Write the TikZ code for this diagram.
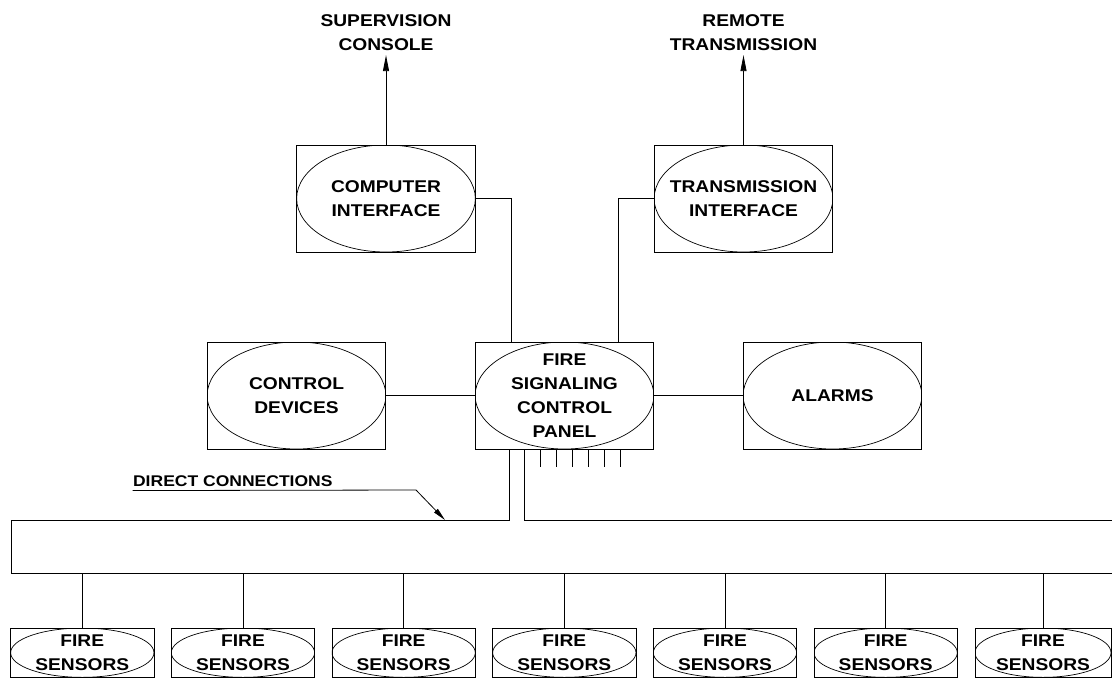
\documentclass[tikz,border=0pt]{standalone}
\usepackage{fontspec}
\setmainfont{Liberation Sans}[FakeStretch=1.13]
\usetikzlibrary{arrows.meta,calc}
\begin{document}
\begin{tikzpicture}[x=1pt,y=-1pt,line width=0.8pt,
  oval/.style={path picture={%
    \draw[line width=0.7pt] let \p1=($(path picture bounding box.north east)-(path picture bounding box.south west)$)
      in (path picture bounding box.center) ellipse [x radius=0.5*\x1, y radius=0.5*\y1];}},
  unit/.style={draw, rectangle, oval, minimum width=178.7pt, minimum height=107pt,
    inner sep=0pt, align=center, font=\fontsize{17}{24}\selectfont\bfseries},
  sensor/.style={draw, rectangle, oval, minimum width=143.3pt, minimum height=49.3pt,
    inner sep=0pt, align=center, font=\fontsize{17}{24}\selectfont\bfseries},
  lbl/.style={inner sep=4pt, align=center, font=\fontsize{17}{24}\selectfont\bfseries},
  dcl/.style={inner sep=0pt, font=\fontsize{15.5}{20}\selectfont\bfseries},
  up/.style={-{Triangle[length=16pt,width=6pt]}},
  pointer/.style={-{Triangle[length=13pt,width=5pt]}}]
\useasboundingbox (0,0) rectangle (1112,678);

% interfaces
\node[unit] (ci) at (386,198.5) {COMPUTER\\INTERFACE};
\node[unit] (ti) at (743.5,198.5) {TRANSMISSION\\INTERFACE};

% central row
\node[unit] (cd) at (296.5,395.5) {CONTROL\\DEVICES};
\node[unit] (panel) at (564.5,395.5) {FIRE\\SIGNALING\\CONTROL\\PANEL};
\node[unit] (al) at (832.5,395.5) {ALARMS};

% outgoing destinations
\node[lbl] (sup) at (386,32.7) {SUPERVISION\\CONSOLE};
\node[lbl] (rem) at (743.5,32.7) {REMOTE\\TRANSMISSION};
\draw[up] (ci.north) -- (sup.south);
\draw[up] (ti.north) -- (rem.south);

% panel links
\draw (ci.east) -| ([xshift=-53.5pt]panel.north);
\draw (ti.west) -| ([xshift=54pt]panel.north);
\draw (cd.east) -- (panel.west);
\draw (panel.east) -- (al.west);

% sensor row
\foreach \i in {0,...,5}
  \node[sensor] (s\i) at ({82.3+160.67*\i},652.7) {FIRE\\SENSORS};
\node[sensor, minimum width=136pt] (s6) at (1043,652.7) {FIRE\\SENSORS};

% bus
\coordinate (busTL) at (11,520);
\coordinate (busBL) at (11,573.5);
\coordinate (busTR) at (1125,520);
\coordinate (busBR) at (1125,573.5);
\draw ([xshift=-55.2pt]panel.south) |- (busTL) |- (busBR);
\draw ([xshift=-39.8pt]panel.south) |- (busTR);
\foreach \k in {1,...,6}
  \draw ($(panel.south)+({-39.8+16*\k},0)$) -- ++(0,17.5);
\foreach \i in {0,...,6}
  \draw (s\i.north) -- (s\i.north |- busBL);

% direct connections callout
\node[dcl, anchor=base west] (dc) at (132.7,486.7) {DIRECT CONNECTIONS};
\coordinate (dcbend) at (416,490);
\coordinate (dctip) at (445,520);
\draw[pointer] ([yshift=-3.3pt]dc.south west) -- (dcbend) -- (dctip);
\end{tikzpicture}
\end{document}
